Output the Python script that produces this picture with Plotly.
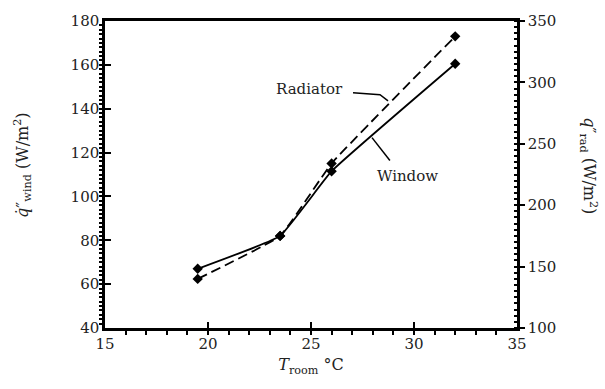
import plotly.graph_objects as go

# Data
t_room = [19.5, 23.5, 26.0, 32.0]
q_wind = [67, 82, 111.5, 160.5]    # left axis, W/m^2 (Window, solid)
q_rad = [140, 175, 234, 337.5]     # right axis, W/m^2 (Radiator, dashed)

x_ticks = [15, 20, 25, 30, 35]
y_ticks = [40, 60, 80, 100, 120, 140, 160, 180]
y2_ticks = [100, 150, 200, 250, 300, 350]

FONT = "DejaVu Serif"

fig = go.Figure()
fig.add_trace(go.Scatter(
    x=t_room, y=q_wind, mode="lines+markers", name="Window",
    line=dict(color="black", width=1.8, shape="spline", smoothing=0.3),
    marker=dict(symbol="diamond", size=8, color="black"),
    showlegend=False))
fig.add_trace(go.Scatter(
    x=t_room, y=q_rad, mode="lines+markers", name="Radiator", yaxis="y2",
    line=dict(color="black", width=1.8, dash="10px,5px", shape="spline", smoothing=0.3),
    marker=dict(symbol="diamond", size=8, color="black"),
    showlegend=False))

axis_common = dict(showgrid=False, zeroline=False, showline=True, linecolor="black",
                   linewidth=2.5, tickcolor="black", tickwidth=2,
                   tickfont=dict(family=FONT, size=15, color="#222"))

fig.update_layout(
    width=605, height=389,
    margin=dict(l=105, r=88, t=19, b=61),
    paper_bgcolor="white", plot_bgcolor="white",
    font=dict(family=FONT, color="#222"),
    xaxis=dict(range=[15, 35], tickvals=x_ticks, ticks="inside", ticklen=6,
               mirror=True,
               minor=dict(dtick=1, ticks="outside", ticklen=4, tickwidth=2, tickcolor="black"),
               title=dict(text="<i>T</i><sub>room</sub> °C", font=dict(family=FONT, size=16), standoff=8),
               **axis_common),
    yaxis=dict(range=[40, 180], tickvals=y_ticks, ticks="inside", ticklen=6,
               minor=dict(dtick=2, ticks="outside", ticklen=3, tickwidth=2, tickcolor="black"),
               **axis_common),
    yaxis2=dict(range=[100, 350], tickvals=y2_ticks, ticks="outside", ticklen=5,
                overlaying="y", side="right",
                minor=dict(dtick=5, ticks="inside", ticklen=3, tickwidth=2, tickcolor="black"),
                **axis_common),
)

# Axis titles (rotated text as annotations)
fig.add_annotation(text="<i>q̇</i>″<sub>wind</sub> (W/m<sup>2</sup>)", xref="paper", yref="paper",
                   x=-0.2, y=0.53, xanchor="center", yanchor="middle", textangle=-90,
                   showarrow=False, font=dict(family=FONT, size=16, color="#222"))
fig.add_annotation(text="<i>q</i>″<sub>rad</sub> (W/m<sup>2</sup>)", xref="paper", yref="paper",
                   x=1.175, y=0.53, xanchor="center", yanchor="middle", textangle=90,
                   showarrow=False, font=dict(family=FONT, size=16, color="#222"))

# Curve labels with leader lines
fig.add_annotation(text="Radiator", x=24.95, y=149.1, xref="x", yref="y", showarrow=False,
                   font=dict(family=FONT, size=15, color="#222"))
fig.add_annotation(text="Window", x=29.7, y=109.5, xref="x", yref="y", showarrow=False,
                   font=dict(family=FONT, size=15, color="#222"))
fig.add_shape(type="path", xref="x", yref="y",
              path="M 27.04 147.3 L 28.35 146.4 L 28.74 143.6",
              line=dict(color="black", width=1.5))
fig.add_shape(type="line", xref="x", yref="y", x0=27.96, y0=126.8, x1=28.83, y1=116.4,
              line=dict(color="black", width=1.5))

fig.write_html("out.html")
